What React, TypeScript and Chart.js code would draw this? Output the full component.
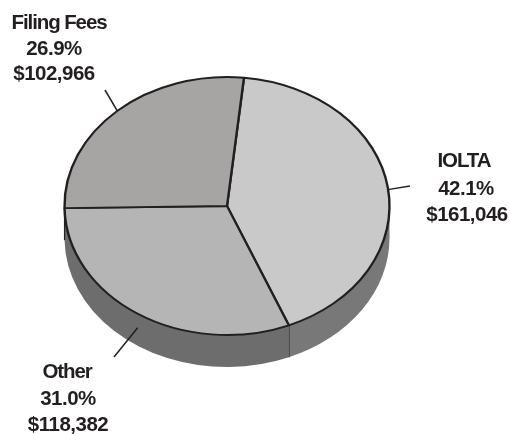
import React, { useEffect, useRef } from "react";
import { Chart, registerables } from "chart.js";

Chart.register(...registerables);

const names = ["IOLTA", "Other", "Filing Fees"];
const amounts = [161046, 118382, 102966];
const amountLabels = ["$161,046", "$118,382", "$102,966"];
const percentLabels = ["42.1%", "31.0%", "26.9%"];

const topColors = ["#c9c9c9", "#b5b5b5", "#a6a5a3"];
const sideColors = ["#787878", "#6d6d6d", "#6d6d6d"];
const ink = "#231f20";

const SQUASH = 129 / 162.5;
const DEPTH = 32;
const TAU = Math.PI * 2;

// label layout: centre x per line + baselines, and leader line outer end + extra drop of inner end
const labelLayout = [
  { xs: [464, 466, 467], ys: [167, 195, 221], end: [410, 186], drop: 2 },
  { xs: [67, 68, 68], ys: [378, 405, 431], end: [114, 357], drop: 14 },
  { xs: [59, 54, 54], ys: [29, 55, 80], end: [105, 90], drop: 0 },
];

const norm = (a: number) => ((a % TAU) + TAU) % TAU;

const pie3d = {
  id: "pie3d",
  beforeDatasetsDraw(chart: any) {
    const ctx = chart.ctx;
    const arcs = chart.getDatasetMeta(0).data;
    arcs.forEach((arc: any, i: number) => {
      const r = arc.outerRadius;
      const ry = r * SQUASH;
      let a0 = norm(arc.startAngle);
      let a1 = a0 + (arc.endAngle - arc.startAngle);
      if (a0 > Math.PI) { a0 -= TAU; a1 -= TAU; }
      const s = Math.max(a0, 0);
      const e = Math.min(a1, Math.PI);
      if (e <= s) return;
      ctx.save();
      ctx.beginPath();
      ctx.ellipse(arc.x, arc.y, r, ry, 0, s, e);
      ctx.ellipse(arc.x, arc.y + DEPTH, r, ry, 0, e, s, true);
      ctx.closePath();
      ctx.fillStyle = sideColors[i];
      ctx.fill();
      if (a1 <= Math.PI + 0.01 && a1 > 0) {
        const px = arc.x + r * Math.cos(a1);
        const py = arc.y + ry * Math.sin(a1);
        ctx.beginPath();
        ctx.moveTo(px, py);
        ctx.lineTo(px, py + DEPTH);
        ctx.strokeStyle = ink;
        ctx.lineWidth = 1.2;
        ctx.stroke();
      }
      ctx.restore();
    });
    const c = arcs[0];
    ctx.save();
    ctx.translate(c.x, c.y);
    ctx.scale(1, SQUASH);
    ctx.translate(-c.x, -c.y);
  },
  afterDatasetsDraw(chart: any) {
    const ctx = chart.ctx;
    ctx.restore();
    const arcs = chart.getDatasetMeta(0).data;
    ctx.save();
    arcs.forEach((arc: any, i: number) => {
      const mid = (arc.startAngle + arc.endAngle) / 2;
      const layout = labelLayout[i];
      const sx = arc.x + arc.outerRadius * Math.cos(mid);
      const sy = arc.y + arc.outerRadius * SQUASH * Math.sin(mid) + layout.drop;
      ctx.beginPath();
      ctx.moveTo(sx, sy);
      ctx.lineTo(layout.end[0], layout.end[1]);
      ctx.strokeStyle = ink;
      ctx.lineWidth = 1.5;
      ctx.stroke();

      ctx.fillStyle = ink;
      ctx.font = "bold 20.5px 'Liberation Sans'";
      ctx.textAlign = "center";
      ctx.textBaseline = "alphabetic";
      [names[i], percentLabels[i], amountLabels[i]].forEach((t, j) => {
        ctx.letterSpacing = j === 0 ? "-1.1px" : "-0.5px";
        ctx.fillText(t, layout.xs[j], layout.ys[j]);
      });
    });
    ctx.restore();
  },
};

export default function App() {
  const ref = useRef<HTMLCanvasElement>(null);
  useEffect(() => {
    const chart = new Chart(ref.current!, {
      type: "pie",
      data: {
        labels: names,
        datasets: [
          {
            data: amounts,
            backgroundColor: topColors,
            borderColor: ink,
            borderWidth: 2.4,
          },
        ],
      },
      options: {
        animation: false,
        responsive: false,
        rotation: 6,
        radius: 162.5,
        layout: { padding: { left: 0, right: 56, top: 0, bottom: 22 } },
        plugins: { legend: { display: false }, tooltip: { enabled: false } },
      },
      plugins: [pie3d],
    } as any);
    return () => chart.destroy();
  }, []);
  return (
    <div style={{ position: "fixed", left: 0, top: 0, width: 510, height: 434, background: "#fff" }}>
      <canvas ref={ref} width={510} height={434} style={{ display: "block" }} />
    </div>
  );
}
